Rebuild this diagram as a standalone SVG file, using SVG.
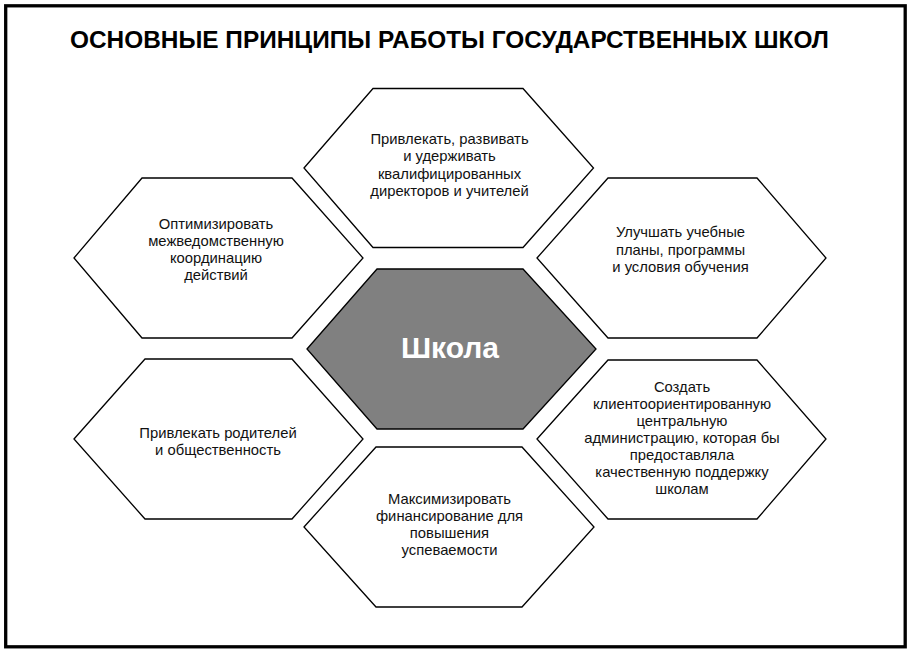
<svg xmlns="http://www.w3.org/2000/svg" width="913" height="657" viewBox="0 0 913 657">
<style>
.hex{fill:#ffffff;stroke:#000000;stroke-width:1.3;stroke-linejoin:miter}
.core{fill:#808080;stroke:#000000;stroke-width:1.3}
.t{font-family:"Liberation Sans",Arial,sans-serif;font-size:14.8px;fill:#111111;text-anchor:middle}
.title{font-family:"Liberation Sans",Arial,sans-serif;font-size:24px;font-weight:bold;fill:#000000}
.ct{font-family:"Liberation Sans",Arial,sans-serif;font-size:30px;font-weight:bold;fill:#ffffff;text-anchor:middle}
</style>
<rect x="0" y="0" width="913" height="657" fill="#ffffff"/>
<rect x="5.7" y="5.8" width="899.5" height="641" fill="none" stroke="#000000" stroke-width="3.3"/>
<text class="title" x="70" y="48.3" textLength="759" lengthAdjust="spacingAndGlyphs">ОСНОВНЫЕ ПРИНЦИПЫ РАБОТЫ ГОСУДАРСТВЕННЫХ ШКОЛ</text>
<g id="connectors"></g>
<g id="node-top">
<polygon class="hex" points="304,168 373,88.5 523,88.5 593.5,168 523,247.5 373,247.5"/>
<text class="t" x="449.5" y="143.5">Привлекать, развивать</text>
<text class="t" x="449.5" y="161">и удерживать</text>
<text class="t" x="449.5" y="178.5">квалифицированных</text>
<text class="t" x="449.5" y="196">директоров и учителей</text>
</g>
<g id="node-left-upper">
<polygon class="hex" points="74,258 142,178 292,178 363,258 292,338 142,338"/>
<text class="t" x="216" y="228.5">Оптимизировать</text>
<text class="t" x="216" y="245.5">межведомственную</text>
<text class="t" x="216" y="262.5">координацию</text>
<text class="t" x="216" y="279.5">действий</text>
</g>
<g id="node-right-upper">
<polygon class="hex" points="537,258 608,178 757,178 826,258 757,338 608,338"/>
<text class="t" x="680.5" y="237">Улучшать учебные</text>
<text class="t" x="680.5" y="254.5">планы, программы</text>
<text class="t" x="680.5" y="272">и условия обучения</text>
</g>
<g id="node-center">
<polygon class="core" points="307,349 377,269 523,269 596,349 523,429 377,429"/>
<text class="ct" x="450" y="358">Школа</text>
</g>
<g id="node-left-lower">
<polygon class="hex" points="74,439 145,359 292,359 363,439 292,519 145,519"/>
<text class="t" x="218" y="437.5">Привлекать родителей</text>
<text class="t" x="218" y="454.5">и общественность</text>
</g>
<g id="node-right-lower">
<polygon class="hex" points="537,439 608,360 757,360 826,439 757,519 608,519"/>
<text class="t" x="682" y="392">Создать</text>
<text class="t" x="682" y="409">клиентоориентированную</text>
<text class="t" x="682" y="426">центральную</text>
<text class="t" x="682" y="443">администрацию, которая бы</text>
<text class="t" x="682" y="460">предоставляла</text>
<text class="t" x="682" y="477">качественную поддержку</text>
<text class="t" x="682" y="494">школам</text>
</g>
<g id="node-bottom">
<polygon class="hex" points="304,527 376,447 522,447 594,527 522,607 376,607"/>
<text class="t" x="449.5" y="503.5">Максимизировать</text>
<text class="t" x="449.5" y="520.5">финансирование для</text>
<text class="t" x="449.5" y="538">повышения</text>
<text class="t" x="449.5" y="555">успеваемости</text>
</g>
</svg>
